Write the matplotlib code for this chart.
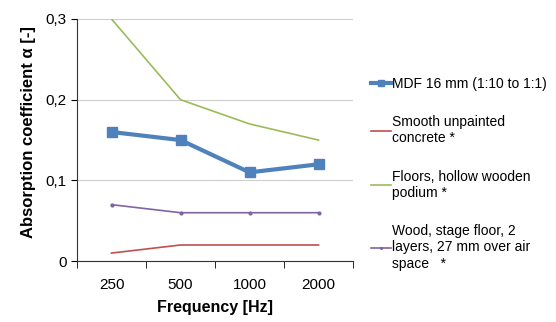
import numpy as np
import matplotlib.pyplot as plt
from matplotlib.ticker import FuncFormatter

plt.rcParams['font.family'] = ['Liberation Sans', 'DejaVu Sans']

freqs = ["250", "500", "1000", "2000"]
mdf = [0.16, 0.15, 0.11, 0.12]
concrete = [0.01, 0.02, 0.02, 0.02]
floors = [0.30, 0.20, 0.17, 0.15]
wood = [0.07, 0.06, 0.06, 0.06]

labels = ["MDF 16 mm (1:10 to 1:1)",
          "Smooth unpainted\nconcrete *",
          "Floors, hollow wooden\npodium *",
          "Wood, stage floor, 2\nlayers, 27 mm over air\nspace   *"]

fig = plt.figure(figsize=(5.56, 3.22), dpi=100)
ax = fig.add_axes([0.1385, 0.189, 0.4965, 0.752])

x = np.arange(len(freqs))
ax.plot(x, mdf, color="#4F81BD", lw=3, marker="s", ms=7, label=labels[0], zorder=5)
ax.plot(x, concrete, color="#C0504D", lw=1.2, label=labels[1])
ax.plot(x, floors, color="#9BBB59", lw=1.2, label=labels[2])
ax.plot(x, wood, color="#8064A2", lw=1.2, marker="o", ms=2, label=labels[3])

ax.set_xlim(-0.5, 3.5)
ax.set_ylim(0, 0.3)
ax.set_xticks(x)
ax.set_xticklabels(freqs)
ax.set_xticks(np.arange(-0.5, 4, 1), minor=True)
ax.tick_params(axis="x", which="major", length=0, pad=12, labelsize=11)
ax.tick_params(axis="x", which="minor", length=5, direction="out")
ax.set_yticks([0, 0.1, 0.2, 0.3])
ax.yaxis.set_major_formatter(FuncFormatter(lambda v, p: "0" if v == 0 else f"{v:.1f}".replace(".", ",")))
ax.tick_params(axis="y", length=4, labelsize=11)
ax.grid(axis="y", color="#CFCFCF", lw=0.8)
ax.set_axisbelow(True)
for s in ["top", "right"]:
    ax.spines[s].set_visible(False)
ax.spines["left"].set_color("#333333")
ax.spines["bottom"].set_color("#333333")

ax.set_xlabel("Frequency [Hz]", fontweight="bold", fontsize=11.5, labelpad=6)
ax.set_ylabel("Absorption coefficient α [-]", fontweight="bold", fontsize=12, labelpad=6)
ax.yaxis.set_label_coords(-0.15, 0.535)

fig.legend(loc="upper left", bbox_to_anchor=(0.645, 0.80), frameon=False,
           fontsize=10, handlelength=1.4, handletextpad=0.1, labelspacing=1.75,
           markerscale=0.6)

fig.savefig("out.png", dpi=100)
